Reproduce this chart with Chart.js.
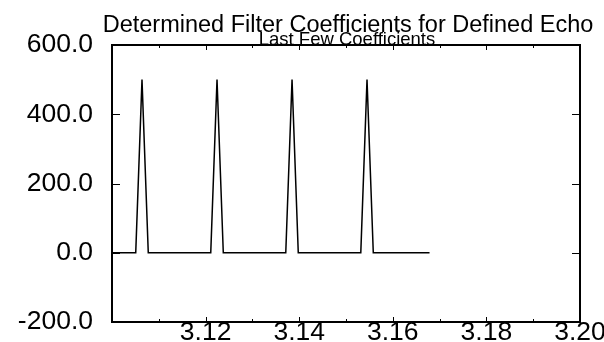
<!DOCTYPE html>
<html>
<head>
<meta charset="utf-8">
<script src="https://cdn.jsdelivr.net/npm/chart.js@4/dist/chart.umd.min.js"></script>
<style>
  html, body { margin: 0; padding: 0; background: #fff; }
  canvas { display: block; }
</style>
</head>
<body>
<canvas id="c" width="604" height="342"></canvas>
<script>
// ---- data ----
const titleText = "Determined Filter Coefficients for Defined Echo";
const subtitleText = "Last Few Coefficients";

const timeValues = [
  3.09973, 3.10107, 3.10240, 3.10374, 3.10507, 3.10641, 3.10775, 3.10908, 3.11042, 3.11175,
  3.11309, 3.11442, 3.11576, 3.11709, 3.11843, 3.11977, 3.12110, 3.12244, 3.12378, 3.12511,
  3.12645, 3.12778, 3.12912, 3.13045, 3.13179, 3.13312, 3.13446, 3.13580, 3.13713, 3.13847,
  3.13980, 3.14114, 3.14247, 3.14381, 3.14514, 3.14648, 3.14782, 3.14915, 3.15049, 3.15182,
  3.15316, 3.15449, 3.15583, 3.15716, 3.15850, 3.15984, 3.16117, 3.16251, 3.16384, 3.16518,
  3.16651, 3.16785
];
const coefficientValues = [
  0, 0, 0, 0, 0, 500, 0, 0, 0, 0,
  0, 0, 0, 0, 0, 0, 0, 500, 0, 0,
  0, 0, 0, 0, 0, 0, 0, 0, 0, 500,
  0, 0, 0, 0, 0, 0, 0, 0, 0, 0,
  0, 500, 0, 0, 0, 0, 0, 0, 0, 0,
  0, 0
];
const xTickLabels = ["3.12", "3.14", "3.16", "3.18", "3.20"];
const yTickLabels = ["-200.0", "0.0", "200.0", "400.0", "600.0"];

const FONT = "'Liberation Sans', Arial, Helvetica, sans-serif";
Chart.defaults.font.family = FONT;
Chart.defaults.color = '#000';

const points = timeValues.map((t, i) => ({ x: t, y: coefficientValues[i] }));

const framePlugin = {
  id: 'frame',
  afterDraw(chart) {
    const ctx = chart.ctx;
    const a = chart.chartArea;
    const xs = chart.scales.x, ys = chart.scales.y;
    const L = Math.round(a.left), R = Math.round(a.right), T = Math.round(a.top), B = Math.round(a.bottom);
    ctx.save();
    ctx.fillStyle = '#000';
    // frame as solid bars
    ctx.fillRect(L - 1, T - 1, R - L + 2, 2);
    ctx.fillRect(L - 1, B - 1, R - L + 2, 2);
    ctx.fillRect(L - 1, T - 1, 2, B - T + 2);
    ctx.fillRect(R - 1, T - 1, 2, B - T + 2);
    // inward tick marks
    xs.ticks.forEach(t => {
      const px = Math.round(xs.getPixelForValue(t.value));
      const major = Math.round(t.value * 100) % 2 === 0;
      const len = major ? 5 : 3;
      ctx.fillRect(px, B - len, 1, len);
      ctx.fillRect(px, T, 1, len);
    });
    ys.ticks.forEach(t => {
      const py = Math.round(ys.getPixelForValue(t.value));
      const major = Math.round(t.value) % 200 === 0;
      const len = major ? 8 : 5;
      ctx.fillRect(L, py, len, 1);
      ctx.fillRect(R - len, py, len, 1);
    });
    // titles
    ctx.textAlign = 'center';
    ctx.textBaseline = 'alphabetic';
    ctx.font = '23.5px ' + FONT;
    ctx.fillText(titleText, 348, 32);
    ctx.font = '18.5px ' + FONT;
    ctx.fillText(subtitleText, 347, 45);
    ctx.restore();
  }
};

new Chart(document.getElementById('c'), {
  type: 'line',
  data: {
    datasets: [{
      data: points,
      borderColor: '#000',
      borderWidth: 1.5,
      pointRadius: 0,
      tension: 0,
      fill: false
    }]
  },
  options: {
    responsive: false,
    animation: false,
    devicePixelRatio: 1,
    layout: { padding: { top: 45, right: 24, left: 0, bottom: 0 } },
    plugins: { legend: { display: false }, tooltip: { enabled: false }, title: { display: false } },
    scales: {
      x: {
        type: 'linear',
        min: 3.10,
        max: 3.20,
        grid: { display: false },
        border: { display: false },
        ticks: {
          stepSize: 0.01,
          autoSkip: false,
          maxRotation: 0,
          minRotation: 0,
          padding: -13,
          font: { size: 26.5 },
          color: '#000',
          callback: (v) => {
            const s = Number(v).toFixed(2);
            return xTickLabels.includes(s) ? s : '';
          }
        },
        afterFit: (s) => { s.height = 20; s.paddingLeft = 0; s.paddingRight = 0; }
      },
      y: {
        min: -200,
        max: 600,
        grid: { display: false },
        border: { display: false },
        ticks: {
          stepSize: 100,
          padding: 11,
          font: { size: 26.5 },
          color: '#000',
          callback: (v) => {
            const s = Number(v).toFixed(1);
            return yTickLabels.includes(s) ? s : '';
          }
        },
        afterFit: (s) => { s.width = 112; s.paddingTop = 0; s.paddingBottom = 0; }
      }
    }
  },
  plugins: [framePlugin]
});
</script>
</body>
</html>
